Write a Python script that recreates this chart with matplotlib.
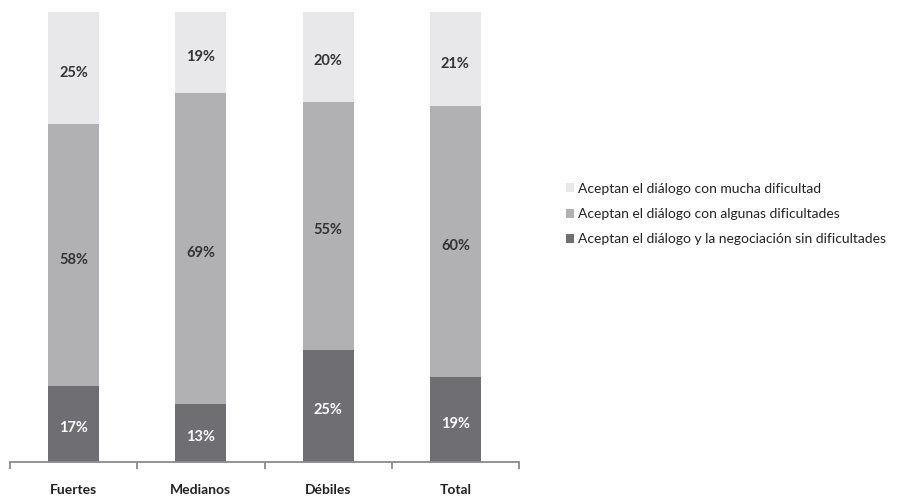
import numpy as np
import matplotlib.pyplot as plt
from matplotlib.patches import Patch

plt.rcParams['font.family'] = ['Lato', 'DejaVu Sans']

categorias = ["Fuertes", "Medianos", "Débiles", "Total"]
sin_dificultades = [17, 13, 25, 19]
algunas_dificultades = [58, 69, 55, 60]
mucha_dificultad = [25, 19, 20, 21]

series = [
    ("Aceptan el diálogo y la negociación sin dificultades", sin_dificultades, "#6f6f73", "white"),
    ("Aceptan el diálogo con algunas dificultades", algunas_dificultades, "#b1b1b4", "#333333"),
    ("Aceptan el diálogo con mucha dificultad", mucha_dificultad, "#e8e8ea", "#333333"),
]

fig = plt.figure(figsize=(9.02, 4.97), dpi=100)
ax = fig.add_axes([10 / 902, 1 - 462 / 497, 509 / 902, 450 / 497])

x = np.arange(len(categorias))
bottom = np.zeros(len(categorias))
handles = []
for nombre, vals, color, tcolor in series:
    vals = np.array(vals, dtype=float)
    ax.bar(x, vals, 0.4, bottom=bottom, color=color, edgecolor="none")
    for xi, b, v in zip(x, bottom, vals):
        top = min(b + v, 100)
        ax.text(xi, (b + top) / 2 - 1, f"{int(v)}%", ha="center", va="center",
                fontsize=10.5, fontweight="bold", color=tcolor)
    bottom += vals
    handles.append(Patch(facecolor=color, edgecolor="none", label=nombre))

ax.set_xlim(-0.5, len(categorias) - 0.5)
ax.set_ylim(0, 100)
ax.set_yticks([])
for s in ["top", "right", "left"]:
    ax.spines[s].set_visible(False)
ax.spines["bottom"].set_color("#8a8a8a")
ax.spines["bottom"].set_linewidth(1.3)

ax.set_xticks(x)
ax.set_xticklabels(categorias, fontsize=10, fontweight="bold", color="#222222")
ax.tick_params(axis="x", which="major", length=0, pad=16)
ax.set_xticks(np.arange(-0.5, len(categorias)), minor=True)
ax.tick_params(axis="x", which="minor", length=5, width=1.3, color="#8a8a8a")

fig.legend(handles=handles[::-1], loc="center left", bbox_to_anchor=(553 / 902, 1 - 214 / 497),
           frameon=False, fontsize=10, handlelength=0.6, handleheight=0.6,
           handletextpad=0.3, labelspacing=0.95, labelcolor="#222222")

fig.savefig("out.png", dpi=100)
